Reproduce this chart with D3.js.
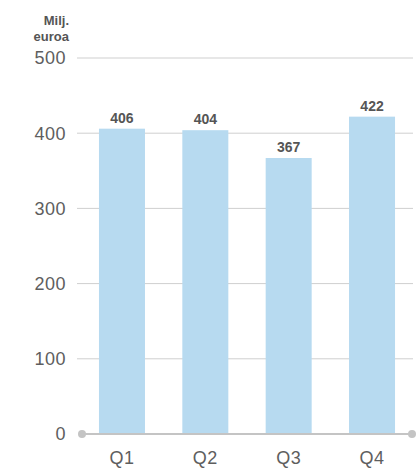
<!DOCTYPE html>
<html><head><meta charset="utf-8">
<script src="https://cdn.jsdelivr.net/npm/d3@7"></script>
<style>body{margin:0;background:#fff;}svg{display:block;font-family:"Liberation Sans",Arial,sans-serif;}</style>
</head><body>
<svg id="c" width="419" height="470"></svg>
<script>
const categories = ["Q1","Q2","Q3","Q4"];
const values = [406,404,367,422];
const yTicks = [0,100,200,300,400,500];
const unitLabel = ["Milj.","euroa"];

const svg = d3.select("#c");
const x = d3.scaleBand().domain(categories).range([80.3,413.7]).padding(0);
const y = d3.scaleLinear().domain([0,500]).range([434,58]);
const barW = x.bandwidth()*0.552;

// gridlines
svg.append("g").selectAll("line").data(yTicks.filter(d=>d>0)).join("line")
  .attr("x1",77).attr("x2",413).attr("y1",d=>y(d)).attr("y2",d=>y(d))
  .attr("stroke","#cfcfcf").attr("stroke-width",1);

// y tick labels
svg.append("g").selectAll("text").data(yTicks).join("text")
  .attr("x",66).attr("y",d=>y(d)).attr("dy","0.36em").attr("text-anchor","end")
  .attr("font-size",18).attr("letter-spacing",0.5).attr("fill","#5e5e5e").text(d=>d);

// unit label
svg.append("g").selectAll("text").data(unitLabel).join("text")
  .attr("x",69).attr("y",(d,i)=>25+i*16).attr("text-anchor","end")
  .attr("font-size",13).attr("font-weight","bold").attr("fill","#555").text(d=>d);

// bars
svg.append("g").selectAll("rect").data(values).join("rect")
  .attr("x",(d,i)=>x(categories[i])+x.bandwidth()/2-barW/2)
  .attr("width",barW)
  .attr("y",d=>y(d)).attr("height",d=>y(0)-y(d))
  .attr("fill","#b7daf0");

// value labels
svg.append("g").selectAll("text").data(values).join("text")
  .attr("x",(d,i)=>x(categories[i])+x.bandwidth()/2)
  .attr("y",d=>y(d)-6).attr("text-anchor","middle")
  .attr("font-size",14).attr("font-weight","bold").attr("fill","#555").text(d=>d);

// zero axis
svg.append("line").attr("x1",82).attr("x2",412).attr("y1",y(0)).attr("y2",y(0))
  .attr("stroke","#c4c4c4").attr("stroke-width",2);
svg.append("g").selectAll("circle").data([82,412]).join("circle")
  .attr("cx",d=>d).attr("cy",y(0)).attr("r",4).attr("fill","#c4c4c4");

// x labels
svg.append("g").selectAll("text").data(categories).join("text")
  .attr("x",d=>x(d)+x.bandwidth()/2).attr("y",464).attr("text-anchor","middle")
  .attr("font-size",18).attr("letter-spacing",0.5).attr("fill","#5e5e5e").text(d=>d);
</script>
</body></html>
